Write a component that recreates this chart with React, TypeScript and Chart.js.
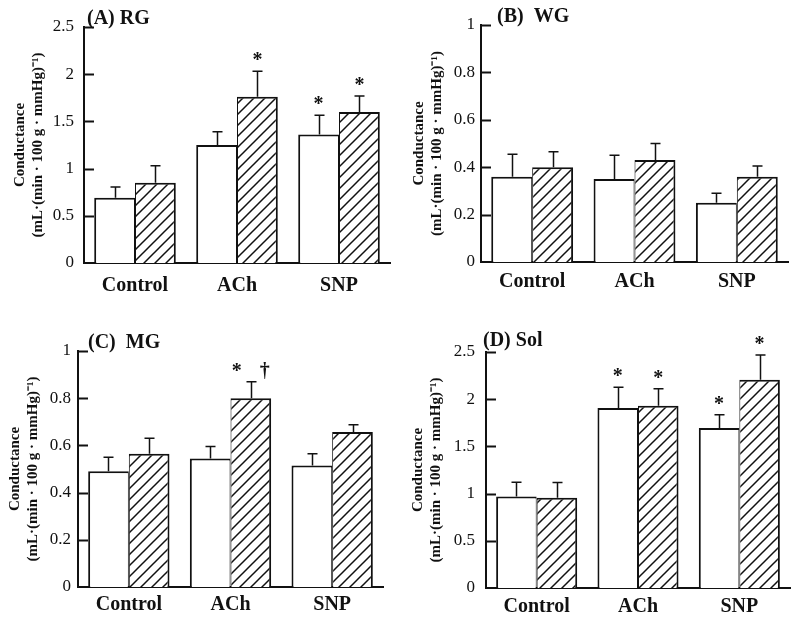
import React, { useEffect, useRef } from 'react';
import { Chart, registerables } from 'chart.js';

Chart.register(...registerables);

const FONT = "'Liberation Serif', 'Times New Roman', serif";
const INK = '#111';

const categories = ['Control', 'ACh', 'SNP'];
const yTitle = ['Conductance', '(mL·(min · 100 g · mmHg)⁻¹)'];

// (A) RG
const rgOpen = [0.69, 1.25, 1.36];
const rgOpenErr = [0.115, 0.14, 0.205];
const rgOpenMarks = ['', '', '*'];
const rgHatched = [0.85, 1.76, 1.6];
const rgHatchedErr = [0.18, 0.27, 0.17];
const rgHatchedMarks = ['', '*', '*'];
const rgTicks = [0, 0.5, 1, 1.5, 2, 2.5];

// (B) WG
const wgOpen = [0.36, 0.35, 0.25];
const wgOpenErr = [0.095, 0.1, 0.04];
const wgOpenMarks = ['', '', ''];
const wgHatched = [0.4, 0.43, 0.36];
const wgHatchedErr = [0.065, 0.07, 0.045];
const wgHatchedMarks = ['', '', ''];
const wgTicks = [0, 0.2, 0.4, 0.6, 0.8, 1];

// (C) MG
const mgOpen = [0.49, 0.545, 0.515];
const mgOpenErr = [0.06, 0.05, 0.05];
const mgOpenMarks = ['', '', ''];
const mgHatched = [0.565, 0.8, 0.657];
const mgHatchedErr = [0.065, 0.07, 0.03];
const mgHatchedMarks = ['', '*†', ''];
const mgTicks = [0, 0.2, 0.4, 0.6, 0.8, 1];

// (D) Sol
const solOpen = [0.97, 1.907, 1.695];
const solOpenErr = [0.15, 0.22, 0.14];
const solOpenMarks = ['', '*', '*'];
const solHatched = [0.957, 1.93, 2.207];
const solHatchedErr = [0.16, 0.18, 0.26];
const solHatchedMarks = ['', '*', '*'];
const solTicks = [0, 0.5, 1, 1.5, 2, 2.5];

type Panel = {
  title: string;
  open: number[]; openErr: number[]; openMarks: string[];
  hatched: number[]; hatchedErr: number[]; hatchedMarks: string[];
  ticks: number[];
  box: { x: number; y: number; w: number; h: number };
  area: { l: number; r: number; t: number; b: number };
  tickPad: number; titlePad: number; catPad: number; headDx: number; headDy: number;
};

const panels: Panel[] = [
  {
    title: '(A) RG', open: rgOpen, openErr: rgOpenErr, openMarks: rgOpenMarks,
    hatched: rgHatched, hatchedErr: rgHatchedErr, hatchedMarks: rgHatchedMarks, ticks: rgTicks,
    box: { x: 0, y: 0, w: 400, h: 310 }, area: { l: 84, r: 390, t: 27, b: 263 },
    tickPad: 10, titlePad: 11, catPad: 11, headDx: 3, headDy: -8,
  },
  {
    title: '(B)  WG', open: wgOpen, openErr: wgOpenErr, openMarks: wgOpenMarks,
    hatched: wgHatched, hatchedErr: wgHatchedErr, hatchedMarks: wgHatchedMarks, ticks: wgTicks,
    box: { x: 400, y: 0, w: 400, h: 310 }, area: { l: 81, r: 388, t: 25, b: 262 },
    tickPad: 6, titlePad: 10, catPad: 8, headDx: 16, headDy: -8,
  },
  {
    title: '(C)  MG', open: mgOpen, openErr: mgOpenErr, openMarks: mgOpenMarks,
    hatched: mgHatched, hatchedErr: mgHatchedErr, hatchedMarks: mgHatchedMarks, ticks: mgTicks,
    box: { x: 0, y: 310, w: 400, h: 311 }, area: { l: 78, r: 383, t: 41, b: 277 },
    tickPad: 7, titlePad: 6, catPad: 6, headDx: 10, headDy: -8,
  },
  {
    title: '(D) Sol', open: solOpen, openErr: solOpenErr, openMarks: solOpenMarks,
    hatched: solHatched, hatchedErr: solHatchedErr, hatchedMarks: solHatchedMarks, ticks: solTicks,
    box: { x: 400, y: 310, w: 400, h: 311 }, area: { l: 86, r: 390, t: 42, b: 278 },
    tickPad: 11, titlePad: 9, catPad: 7, headDx: -3, headDy: -11,
  },
];

const annotate = {
  id: 'annotate',
  afterDatasetsDraw(chart: any, _args: any, opts: any) {
    const { ctx, chartArea } = chart;
    const y = chart.scales.y;
    ctx.save();
    ctx.strokeStyle = INK;
    ctx.fillStyle = INK;
    // inward tick marks
    ctx.lineWidth = 2;
    y.ticks.forEach((t: any) => {
      if (t.value === 0) return;
      const py = Math.round(y.getPixelForValue(t.value)) + 0.5;
      ctx.beginPath();
      ctx.moveTo(chartArea.left, py);
      ctx.lineTo(chartArea.left + 10, py);
      ctx.stroke();
    });
    // error bars and significance marks
    const errs = [opts.openErr, opts.hatchedErr];
    const marks = [opts.openMarks, opts.hatchedMarks];
    chart.data.datasets.forEach((ds: any, i: number) => {
      const meta = chart.getDatasetMeta(i);
      meta.data.forEach((el: any, j: number) => {
        const v = ds.data[j];
        const top = y.getPixelForValue(v + errs[i][j]);
        const x = Math.round(el.x) + 0.5;
        ctx.lineWidth = 1.5;
        ctx.beginPath();
        ctx.moveTo(x, el.y);
        ctx.lineTo(x, top);
        ctx.moveTo(x - 5, top);
        ctx.lineTo(x + 5, top);
        ctx.stroke();
        const m: string = marks[i][j];
        if (m) {
          ctx.font = `bold 20px ${FONT}`;
          ctx.textAlign = 'center';
          ctx.textBaseline = 'alphabetic';
          const chars = Array.from(m);
          chars.forEach((c, k) => {
            const dx = (k - (chars.length - 1) / 2) * 28;
            ctx.fillText(c, el.x + dx, top - 5);
          });
        }
      });
    });
    // panel heading
    ctx.font = `bold 20px ${FONT}`;
    ctx.textAlign = 'left';
    ctx.textBaseline = 'middle';
    ctx.fillText(opts.title, chartArea.left + opts.headDx, chartArea.top + opts.headDy);
    ctx.restore();
  },
};

function makeHatch(ctx: CanvasRenderingContext2D) {
  const s = 11;
  const tile = document.createElement('canvas');
  tile.width = s;
  tile.height = s;
  const t = tile.getContext('2d')!;
  t.fillStyle = '#fff';
  t.fillRect(0, 0, s, s);
  t.strokeStyle = INK;
  t.lineWidth = 1.5;
  t.beginPath();
  t.moveTo(-1, s + 1); t.lineTo(s + 1, -1);
  t.moveTo(-2, 2); t.lineTo(2, -2);
  t.moveTo(s - 2, s + 2); t.lineTo(s + 2, s - 2);
  t.stroke();
  return ctx.createPattern(tile, 'repeat')!;
}

function PanelChart({ p }: { p: Panel }) {
  const ref = useRef<HTMLCanvasElement>(null);
  useEffect(() => {
    const canvas = ref.current!;
    const ctx = canvas.getContext('2d')!;
    const hatch = makeHatch(ctx);
    const chart = new Chart(canvas, {
      type: 'bar',
      data: {
        labels: categories,
        datasets: [
          {
            data: p.open,
            backgroundColor: '#fff',
            borderColor: INK,
            borderWidth: { top: 2, left: 2, right: 1, bottom: 0 },
            categoryPercentage: 0.8,
            barPercentage: 1.0,
          },
          {
            data: p.hatched,
            backgroundColor: hatch,
            borderColor: INK,
            borderWidth: { top: 2, left: 1, right: 2, bottom: 0 },
            categoryPercentage: 0.8,
            barPercentage: 1.0,
          },
        ],
      },
      options: {
        responsive: false,
        maintainAspectRatio: false,
        animation: false,
        devicePixelRatio: 1,
        layout: { padding: { top: p.area.t, right: p.box.w - p.area.r, bottom: 0, left: 0 } },
        plugins: {
          legend: { display: false },
          tooltip: { enabled: false },
          annotate: {
            title: p.title, headDx: p.headDx, headDy: p.headDy,
            openErr: p.openErr, hatchedErr: p.hatchedErr,
            openMarks: p.openMarks, hatchedMarks: p.hatchedMarks,
          },
        } as any,
        scales: {
          x: {
            type: 'category',
            grid: { display: false, drawTicks: false },
            border: { display: true, color: INK, width: 2 },
            ticks: {
              color: INK, padding: p.catPad, maxRotation: 0, autoSkip: false,
              font: { family: FONT, size: 20, weight: 'bold' },
            },
            afterFit: (s: any) => { s.height = p.box.h - p.area.b; },
          },
          y: {
            min: p.ticks[0],
            max: p.ticks[p.ticks.length - 1],
            afterBuildTicks: (s: any) => { s.ticks = p.ticks.map((v) => ({ value: v })); },
            grid: { display: false, drawTicks: false },
            border: { display: true, color: INK, width: 2 },
            ticks: {
              color: INK, padding: p.tickPad,
              font: { family: FONT, size: 17 },
              callback: (v: any) => String(Number(v)),
            },
            title: {
              display: true, text: yTitle, color: INK,
              font: { family: FONT, size: 15, weight: 'bold', lineHeight: 1.2 },
              padding: { top: p.titlePad, bottom: 0 },
            },
            afterFit: (s: any) => { s.width = p.area.l; },
          },
        },
      } as any,
      plugins: [annotate],
    });
    return () => chart.destroy();
  }, [p]);
  return (
    <canvas
      ref={ref}
      width={p.box.w}
      height={p.box.h}
      style={{ position: 'absolute', left: p.box.x, top: p.box.y, width: p.box.w, height: p.box.h, display: 'block' }}
    />
  );
}

export default function App() {
  return (
    <div style={{ position: 'absolute', left: 0, top: 0, width: 800, height: 621, background: '#fff', overflow: 'hidden' }}>
      {panels.map((p) => (
        <PanelChart key={p.title} p={p} />
      ))}
    </div>
  );
}
